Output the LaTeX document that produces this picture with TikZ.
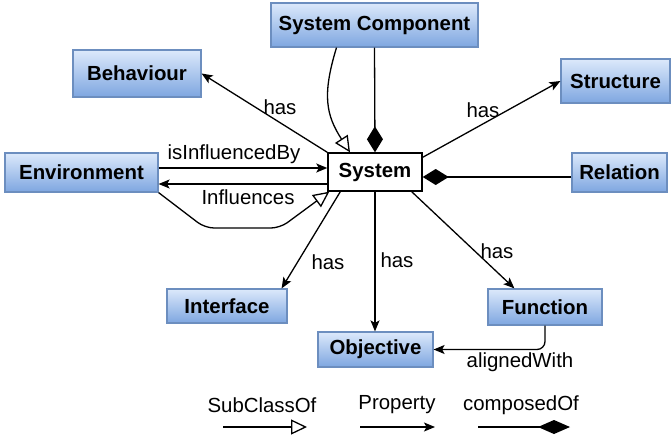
\documentclass[tikz,border=0pt]{standalone}
\usepackage{fontspec}
\setmainfont{Liberation Sans}
\usetikzlibrary{arrows.meta,calc}
\definecolor{boxtop}{HTML}{DCE9FB}
\definecolor{boxbot}{HTML}{7EA6E0}
\definecolor{boxline}{HTML}{6C8EBF}
\begin{document}
\begin{tikzpicture}[x=1pt,y=-1pt,
  font=\fontsize{20.4}{24}\selectfont,
  cls/.style={draw=boxline,line width=1.2pt,top color=boxtop,bottom color=boxbot,
    inner sep=0pt,font=\fontsize{20.4}{24}\selectfont\bfseries},
  sysbox/.style={draw=black,line width=1.4pt,fill=white,inner sep=0pt,
    font=\fontsize{20.4}{24}\selectfont\bfseries},
  edge/.style={line width=1.3pt,draw=black},
  prop/.style={edge,-{Stealth[length=11pt,width=9pt,inset=2.5pt]}},
  subcls/.style={edge,-{Triangle[open,length=16pt,width=15pt,fill=white]}},
  comp/.style={edge,-{Diamond[length=26pt,width=16pt]}},
  lbl/.style={inner sep=0pt}
]
\useasboundingbox (0,0) rectangle (672,439);

\node[cls,minimum width=207pt,minimum height=44pt] (sc) at (374.5,25) {System Component};
\node[sysbox,minimum width=94pt,minimum height=38pt] (sys) at (375,172) {System};
\node[cls,minimum width=128pt,minimum height=47pt] (beh) at (137,73.5) {Behaviour};
\node[cls,minimum width=153pt,minimum height=39pt] (env) at (81.5,172.5) {Environment};
\node[cls,minimum width=109pt,minimum height=44pt] (str) at (615.5,81) {Structure};
\node[cls,minimum width=95pt,minimum height=39pt] (rel) at (619.5,172.5) {Relation};
\node[cls,minimum width=114pt,minimum height=36pt] (fun) at (545,307) {Function};
\node[cls,minimum width=115pt,minimum height=35pt] (obj) at (375.5,349.5) {Objective};
\node[cls,minimum width=120pt,minimum height=34pt] (int) at (227,306) {Interface};

% edges
\draw[prop] (sys.north west) -- (beh.east);
\draw[prop] ([yshift=-5pt]sys.north east) -- (str.west);
\draw[prop] ([yshift=4.5pt]env.east) -- ([yshift=4pt]sys.west);
\draw[prop] ([yshift=-12pt]sys.west) -- ([yshift=-11.5pt]env.east);
\draw[subcls,rounded corners=9pt] (env.south east) -- (205,228) -- (280,228) -- ([xshift=2pt]sys.south west);
\draw[comp] (sc.south) -- (sys.north);
\draw[subcls] ([xshift=-38pt]sc.south) .. controls (322,95) and (326,115) .. ([xshift=-25pt]sys.north);
\draw[comp] ([yshift=-4.5pt]rel.west) -- ([yshift=-5pt]sys.east);
\draw[prop] ([xshift=13pt]sys.south west) -- ([xshift=-6pt]int.north east);
\draw[prop] (sys.south) -- (sys.south |- obj.north);
\draw[prop] ([xshift=-11pt]sys.south east) -- ([xshift=27pt]fun.north west);
\draw[prop,rounded corners=8pt] (fun.south) |- (obj.east);

% edge labels
\node[lbl] (l1) at (280,107) {has};
\node[lbl] (l2) at (483,110) {has};
\node[lbl] (l3) at (234,154) {isInfluencedBy};
\node[lbl] (l4) at (248,197) {Influences};
\node[lbl] (l5) at (328,262) {has};
\node[lbl] (l6) at (397,260) {has};
\node[lbl] (l7) at (497,251) {has};
\node[lbl] (l8) at (520,362) {alignedWith};

% legend
\node[lbl] (lg1) at (262,405) {SubClassOf};
\node[lbl] (lg2) at (397,405) {Property};
\node[lbl] (lg3) at (521,405) {composedOf};
\coordinate (a1) at (223,427);
\coordinate (b1) at (307,427);
\coordinate (a2) at (360,427);
\coordinate (b2) at (435,427);
\coordinate (a3) at (478,427);
\coordinate (b3) at (570,427);
\draw[subcls] (a1) -- (b1);
\draw[prop] (a2) -- (b2);
\draw[edge,-{Diamond[length=32pt,width=14pt]}] (a3) -- (b3);
\end{tikzpicture}
\end{document}
